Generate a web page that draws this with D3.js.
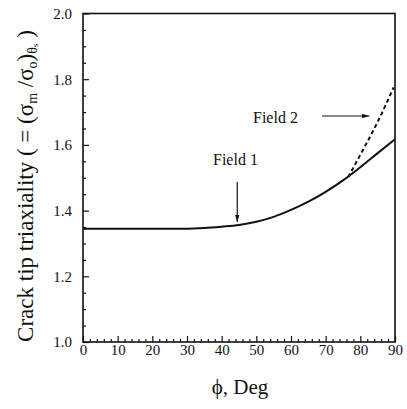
<!DOCTYPE html>
<html>
<head>
<meta charset="utf-8">
<script src="https://cdn.jsdelivr.net/npm/d3@7"></script>
<style>
  body { margin: 0; background: #fff; }
</style>
</head>
<body>
<svg width="407" height="409"></svg>
<script>
// field 1 (solid) and field 2 (dashed) triaxiality vs phi
const phi1 = [0, 10, 20, 30, 35, 40, 45, 50, 55, 60, 65, 70, 75, 80, 85, 90];
const field1 = [1.345, 1.345, 1.345, 1.345, 1.347, 1.351, 1.356, 1.366, 1.381, 1.402, 1.427, 1.457, 1.492, 1.532, 1.575, 1.617];
const phi2 = [76.5, 80, 85, 89.6];
const field2 = [1.502, 1.57, 1.67, 1.775];
const xTicks = [0, 10, 20, 30, 40, 50, 60, 70, 80, 90];
const yTicks = [1.0, 1.2, 1.4, 1.6, 1.8, 2.0];

const serif = '"Liberation Serif", "DejaVu Serif", "Times New Roman", serif';
const svg = d3.select("svg");
const mLeft = 83, mRight = 395, mTop = 13.5, mBottom = 342;

const x = d3.scaleLinear().domain([0, 90]).range([mLeft, mRight]);
const y = d3.scaleLinear().domain([1.0, 2.0]).range([mBottom, mTop]);

// frame
svg.append("rect")
  .attr("x", mLeft).attr("y", mTop)
  .attr("width", mRight - mLeft).attr("height", mBottom - mTop)
  .attr("fill", "none").attr("stroke", "#111").attr("stroke-width", 1.6);

// inward ticks
const xAxis = svg.append("g").attr("transform", "translate(0," + mBottom + ")");
xAxis.call(d3.axisTop(x).tickValues(d3.range(0, 91, 2)).tickSize(3).tickFormat(""));
xAxis.selectAll(".tick line").filter(d => d % 10 === 0).attr("y2", -6);
xAxis.select(".domain").remove();
xAxis.selectAll(".tick line").attr("stroke", "#111").attr("stroke-width", 1.2);

const xLab = svg.append("g").attr("transform", "translate(0," + mBottom + ")");
xLab.call(d3.axisBottom(x).tickValues(xTicks).tickSize(0).tickFormat(d3.format("d")));
xLab.select(".domain").remove();
xLab.selectAll("text").attr("y", 13).attr("dy", null).style("font-size", "15px");

const yAxis = svg.append("g").attr("transform", "translate(" + mLeft + ",0)");
yAxis.call(d3.axisRight(y).tickValues(d3.range(0, 21).map(i => 1 + i * 0.05)).tickSize(3).tickFormat(""));
yAxis.selectAll(".tick line").filter((d, i) => i % 4 === 0).attr("x2", 6);
yAxis.select(".domain").remove();
yAxis.selectAll(".tick line").attr("stroke", "#111").attr("stroke-width", 1.2);

const yLab = svg.append("g").attr("transform", "translate(" + mLeft + ",0)");
yLab.call(d3.axisLeft(y).tickValues(yTicks).tickSize(0).tickPadding(11).tickFormat(d3.format(".1f")));
yLab.select(".domain").remove();
yLab.selectAll("text").style("font-size", "15px");

// curves
const line = d3.line().x(d => x(d[0])).y(d => y(d[1])).curve(d3.curveMonotoneX);
svg.append("path")
  .datum(phi1.map((p, i) => [p, field1[i]]))
  .attr("d", line).attr("fill", "none").attr("stroke", "#111").attr("stroke-width", 2);
svg.append("path")
  .datum(phi2.map((p, i) => [p, field2[i]]))
  .attr("d", line).attr("fill", "none").attr("stroke", "#111").attr("stroke-width", 2)
  .attr("stroke-dasharray", "4,3");

// annotations
svg.append("defs").append("marker")
  .attr("id", "ah").attr("viewBox", "0 0 10 10").attr("refX", 10).attr("refY", 5)
  .attr("markerWidth", 6).attr("markerHeight", 6).attr("orient", "auto")
  .append("path").attr("d", "M0,2 L10,5 L0,8 Z").attr("fill", "#111");

svg.append("text").attr("x", 213).attr("y", 165).style("font-size", "16px").text("Field 1");
svg.append("line")
  .attr("x1", x(44.5)).attr("y1", 182).attr("x2", x(44.5)).attr("y2", y(1.356) - 3)
  .attr("stroke", "#111").attr("stroke-width", 1.2).attr("marker-end", "url(#ah)");

svg.append("text").attr("x", 253).attr("y", 123).style("font-size", "16px").text("Field 2");
svg.append("line")
  .attr("x1", 322).attr("y1", 116).attr("x2", x(82.6)).attr("y2", 116)
  .attr("stroke", "#111").attr("stroke-width", 1.2).attr("marker-end", "url(#ah)");

// axis titles
svg.append("text")
  .attr("x", 240).attr("y", 394)
  .attr("text-anchor", "middle").style("font-size", "21px").text("ϕ, Deg");

const yt = svg.append("text")
  .attr("transform", "translate(33,186) rotate(-90)")
  .attr("text-anchor", "middle").style("font-size", "23px");
yt.append("tspan").text("Crack tip triaxiality ( = (σ");
yt.append("tspan").attr("baseline-shift", "-30%").style("font-size", "14px").text("m");
yt.append("tspan").text(" /σ");
yt.append("tspan").attr("baseline-shift", "-30%").style("font-size", "14px").text("o");
yt.append("tspan").text(")");
yt.append("tspan").attr("baseline-shift", "-30%").style("font-size", "14px").text("θ");
yt.append("tspan").attr("baseline-shift", "-50%").style("font-size", "9px").text("s");
yt.append("tspan").text(" )");

svg.selectAll("text").style("font-family", serif).attr("fill", "#111");
</script>
</body>
</html>
